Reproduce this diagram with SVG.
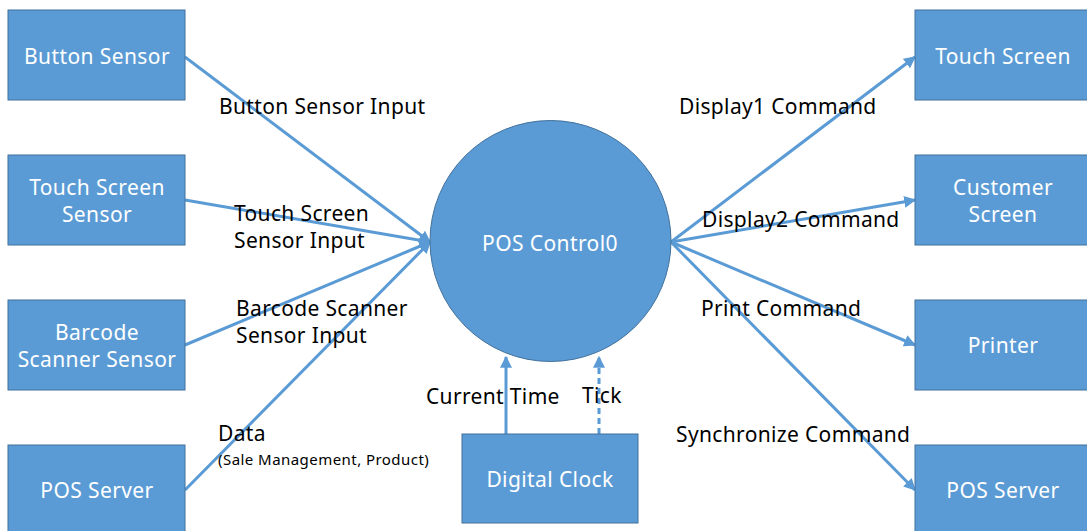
<svg xmlns="http://www.w3.org/2000/svg" width="1087" height="531" viewBox="0 0 1087 531">
  <style>
    .box { fill: #5b9bd5; stroke: #41719c; stroke-width: 1; }
    .lbl { fill: #ffffff; font-family: "Noto Sans", "Open Sans", sans-serif; font-size: 21px; letter-spacing: 0.4px; text-anchor: middle; }
    .flow { fill: #000000; font-family: "Noto Sans", "Open Sans", sans-serif; font-size: 21px; letter-spacing: 0.35px; }
    .small { font-size: 15px; letter-spacing: 0.45px; }
    .edge { fill: none; stroke: #5b9bd5; stroke-width: 3; marker-end: url(#arrow); }
    .dash { stroke-dasharray: 6 4; }
  </style>
  <defs>
    <marker id="arrow" viewBox="0 0 10 10" refX="9" refY="5" markerWidth="4" markerHeight="4" orient="auto" markerUnits="strokeWidth">
      <path d="M0,0 L10,5 L0,10 z" fill="#5b9bd5"/>
    </marker>
  </defs>
  <rect width="1087" height="531" fill="#ffffff"/>

  <!-- connectors -->
  <g id="connectors">
    <line class="edge" x1="185" y1="57" x2="430" y2="242"/>
    <line class="edge" x1="185" y1="200" x2="430" y2="242"/>
    <line class="edge" x1="185" y1="345" x2="430" y2="242"/>
    <line class="edge" x1="185" y1="490" x2="430" y2="242"/>
    <line class="edge" x1="671" y1="242" x2="915" y2="57"/>
    <line class="edge" x1="671" y1="242" x2="915" y2="200"/>
    <line class="edge" x1="671" y1="242" x2="915" y2="345"/>
    <line class="edge" x1="671" y1="242" x2="915" y2="490"/>
    <line class="edge" x1="506" y1="434" x2="506" y2="357"/>
    <line class="edge dash" x1="599" y1="434" x2="599" y2="357"/>
  </g>

  <!-- connector labels -->
  <g id="edge-labels">
    <text class="flow" x="219" y="114">Button Sensor Input</text>
    <text class="flow" x="234" y="221">Touch Screen</text>
    <text class="flow" x="234" y="248">Sensor Input</text>
    <text class="flow" x="236" y="316">Barcode Scanner</text>
    <text class="flow" x="236" y="343">Sensor Input</text>
    <text class="flow" x="218" y="441">Data</text>
    <text class="flow small" x="218" y="465">(Sale Management, Product)</text>
    <text class="flow" x="426" y="404">Current Time</text>
    <text class="flow" x="582" y="403">Tick</text>
    <text class="flow" x="679" y="114">Display1 Command</text>
    <text class="flow" x="702" y="227">Display2 Command</text>
    <text class="flow" x="701" y="316">Print Command</text>
    <text class="flow" x="676" y="442">Synchronize Command</text>
  </g>

  <!-- left-side sources -->
  <g id="button-sensor">
    <rect class="box" x="8" y="10" width="177" height="90"/>
    <text class="lbl" x="97" y="64">Button Sensor</text>
  </g>
  <g id="touch-screen-sensor">
    <rect class="box" x="8" y="155" width="177" height="90"/>
    <text class="lbl" x="97" y="195">Touch Screen</text>
    <text class="lbl" x="97" y="222">Sensor</text>
  </g>
  <g id="barcode-scanner-sensor">
    <rect class="box" x="8" y="300" width="177" height="90"/>
    <text class="lbl" x="97" y="340">Barcode</text>
    <text class="lbl" x="97" y="367">Scanner Sensor</text>
  </g>
  <g id="pos-server-in">
    <rect class="box" x="8" y="445" width="177" height="90"/>
    <text class="lbl" x="97" y="498">POS Server</text>
  </g>

  <!-- central process -->
  <g id="pos-control">
    <circle class="box" cx="550.5" cy="241" r="120.5"/>
    <text class="lbl" x="550" y="251">POS Control0</text>
  </g>
  <g id="digital-clock">
    <rect class="box" x="462" y="434" width="176" height="89"/>
    <text class="lbl" x="550" y="487">Digital Clock</text>
  </g>

  <!-- right-side sinks -->
  <g id="touch-screen">
    <rect class="box" x="915" y="10" width="177" height="90"/>
    <text class="lbl" x="1003" y="64">Touch Screen</text>
  </g>
  <g id="customer-screen">
    <rect class="box" x="915" y="155" width="177" height="90"/>
    <text class="lbl" x="1003" y="195">Customer</text>
    <text class="lbl" x="1003" y="222">Screen</text>
  </g>
  <g id="printer">
    <rect class="box" x="915" y="300" width="177" height="90"/>
    <text class="lbl" x="1003" y="353">Printer</text>
  </g>
  <g id="pos-server-out">
    <rect class="box" x="915" y="445" width="177" height="90"/>
    <text class="lbl" x="1003" y="498">POS Server</text>
  </g>
</svg>
